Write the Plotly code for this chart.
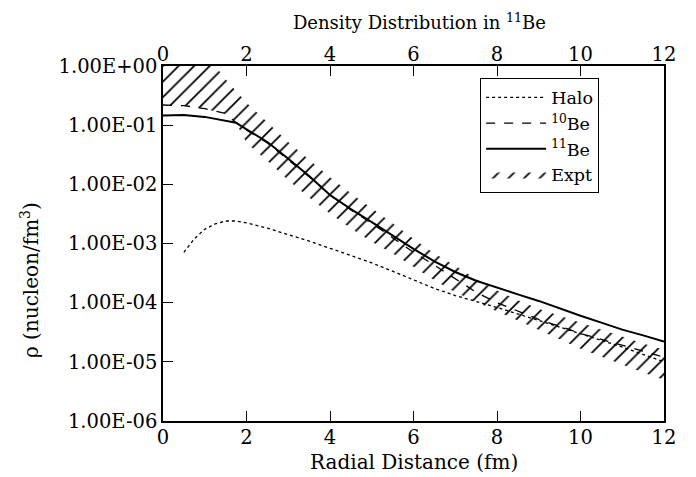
import plotly.graph_objects as go

# ---- data ----
r_be11 = [0, 0.5, 1.0, 1.5, 1.75, 2.0, 2.5, 3.0, 3.5, 4.0, 4.5, 5.0, 5.5, 6.0,
          6.5, 7.0, 7.5, 8.0, 8.5, 9.0, 9.5, 10.0, 10.5, 11.0, 11.5, 12.0]
rho_be11 = [0.145, 0.148, 0.138, 0.120, 0.110, 0.085, 0.052, 0.027, 0.0138, 0.0066,
            0.0038, 0.0023, 0.00135, 8.1e-4, 5.0e-4, 3.3e-4, 2.35e-4, 1.78e-4,
            1.38e-4, 1.07e-4, 7.9e-5, 6.0e-5, 4.6e-5, 3.5e-5, 2.8e-5, 2.2e-5]

r_be10 = [0, 0.5, 1.0, 1.5, 1.75, 2.0, 2.5, 3.0, 3.5, 4.0, 4.5, 5.0, 5.5, 6.0,
          6.5, 7.0, 7.5, 8.0, 8.5, 9.0, 9.5, 10.0, 10.5, 11.0, 11.5, 12.0]
rho_be10 = [0.219, 0.214, 0.19, 0.158, 0.110, 0.083, 0.050, 0.026, 0.0135, 0.0066,
            0.0037, 0.0022, 0.00123, 7.1e-4, 4.3e-4, 2.5e-4, 1.5e-4, 1.0e-4,
            7.1e-5, 5.2e-5, 4.0e-5, 3.0e-5, 2.4e-5, 1.9e-5, 1.5e-5, 1.2e-5]

r_halo = [0.5, 0.75, 1.0, 1.25, 1.5, 1.75, 2.0, 2.5, 3.0, 3.5, 4.0, 4.5, 5.0, 5.5,
          6.0, 6.5, 7.0, 7.5, 8.0, 9.0, 10.0, 11.0, 12.0]
rho_halo = [7.1e-4, 1.2e-3, 1.74e-3, 2.14e-3, 2.4e-3, 2.4e-3, 2.24e-3, 1.82e-3,
            1.41e-3, 1.1e-3, 8.3e-4, 6.3e-4, 4.7e-4, 3.4e-4, 2.45e-4, 1.74e-4,
            1.32e-4, 1.05e-4, 8.3e-5, 5.0e-5, 3.0e-5, 1.78e-5, 1.0e-5]

r_expt = [0, 0.5, 1.0, 1.25, 1.5, 1.75, 2.0, 2.5, 3.0, 3.5, 4.0, 4.5, 5.0, 5.5,
          6.0, 6.5, 7.0, 7.5, 8.0, 8.5, 9.0, 9.5, 10.0, 10.5, 11.0, 11.5, 12.0]
expt_upper = [1.0, 1.0, 1.0, 1.0, 0.6, 0.38, 0.24, 0.112, 0.052, 0.026, 0.0132,
              0.0071, 0.004, 0.0022, 0.0012, 6.8e-4, 4.2e-4, 2.5e-4, 1.6e-4,
              1.1e-4, 7.9e-5, 6.0e-5, 4.6e-5, 3.5e-5, 2.7e-5, 2.05e-5, 1.6e-5]
expt_lower = [0.22, 0.214, 0.19, 0.17, 0.158, 0.11, 0.05, 0.025, 0.0117, 0.006,
              0.0032, 0.0018, 0.00107, 6.8e-4, 4.0e-4, 2.4e-4, 1.5e-4, 1.02e-4,
              7.1e-5, 5.0e-5, 3.5e-5, 2.4e-5, 1.66e-5, 1.2e-5, 8.9e-6, 6.6e-6, 5.0e-6]

x_ticks = [0, 2, 4, 6, 8, 10, 12]
y_tickvals = [1e0, 1e-1, 1e-2, 1e-3, 1e-4, 1e-5, 1e-6]
y_ticktext = ["1.00E+00", "1.00E-01", "1.00E-02", "1.00E-03", "1.00E-04",
              "1.00E-05", "1.00E-06"]

FONT = "DejaVu Serif"
TICK_SIZE = 19.5

fig = go.Figure()

# hatched experimental band first (drawn beneath the lines)
fig.add_trace(go.Scatter(
    x=r_expt + r_expt[::-1], y=expt_upper + expt_lower[::-1],
    mode="lines", name="Expt", fill="toself", legendrank=4,
    fillcolor="white",
    fillpattern=dict(shape="/", fgcolor="black", bgcolor="white", fgopacity=1,
                     size=11, solidity=0.16),
    line=dict(color="rgba(0,0,0,0)", width=0), hoverinfo="skip"))

fig.add_trace(go.Scatter(x=r_halo, y=rho_halo, mode="lines", name="Halo",
                         legendrank=1,
                         line=dict(color="black", width=1.3, dash="dot")))
fig.add_trace(go.Scatter(x=r_be10, y=rho_be10, mode="lines", name="<sup>10</sup>Be",
                         legendrank=2,
                         line=dict(color="black", width=1.3, dash="dash")))
fig.add_trace(go.Scatter(x=r_be11, y=rho_be11, mode="lines", name="<sup>11</sup>Be",
                         legendrank=3,
                         line=dict(color="black", width=2)))

# invisible trace on top axis
fig.add_trace(go.Scatter(x=[0, 12], y=[1e-3, 1e-3], xaxis="x2", mode="lines",
                         line=dict(color="rgba(0,0,0,0)"), showlegend=False,
                         hoverinfo="skip"))

axis_common = dict(showgrid=False, zeroline=False, showline=True, linecolor="black",
                   linewidth=1.5, ticks="inside", ticklen=10, tickwidth=1.3,
                   tickcolor="black", automargin=False,
                   tickfont=dict(family=FONT, size=TICK_SIZE, color="black"))

fig.update_layout(
    width=688, height=469,
    margin=dict(l=155, r=32, t=58, b=56),
    paper_bgcolor="white", plot_bgcolor="rgba(0,0,0,0)",
    font=dict(family=FONT, size=18, color="black"),
    title=dict(text="Density Distribution in <sup>11</sup>Be", x=0.598, xanchor="center",
               y=0.968, yanchor="middle", yref="container",
               font=dict(family=FONT, size=18, color="black")),
    xaxis=dict(range=[0, 12], tickvals=x_ticks, mirror=True, ticklabelstandoff=-2,
               **axis_common),
    xaxis2=dict(range=[0, 12], tickvals=x_ticks, overlaying="x", side="top",
                ticklabelstandoff=-5, **axis_common),
    yaxis=dict(type="log", range=[-6, 0], tickvals=y_tickvals, ticktext=y_ticktext,
               mirror=True, **axis_common),
    legend=dict(x=0.633, y=0.965, xanchor="left", yanchor="top",
                bgcolor="white", bordercolor="black", borderwidth=1,
                font=dict(family=FONT, size=17.5, color="black"),
                tracegroupgap=0, itemwidth=60),
    showlegend=True,
    annotations=[
        dict(text="ρ (nucleon/fm<sup>3</sup>)", textangle=-90,
             xref="paper", yref="paper", x=-0.2655, y=0.397,
             xanchor="center", yanchor="middle", showarrow=False,
             font=dict(family=FONT, size=20, color="black")),
        dict(text="Radial Distance (fm)",
             xref="paper", yref="paper", x=0.5, y=-0.1155,
             xanchor="center", yanchor="middle", showarrow=False,
             font=dict(family=FONT, size=20, color="black")),
    ],
)

fig.write_html("out.html")
